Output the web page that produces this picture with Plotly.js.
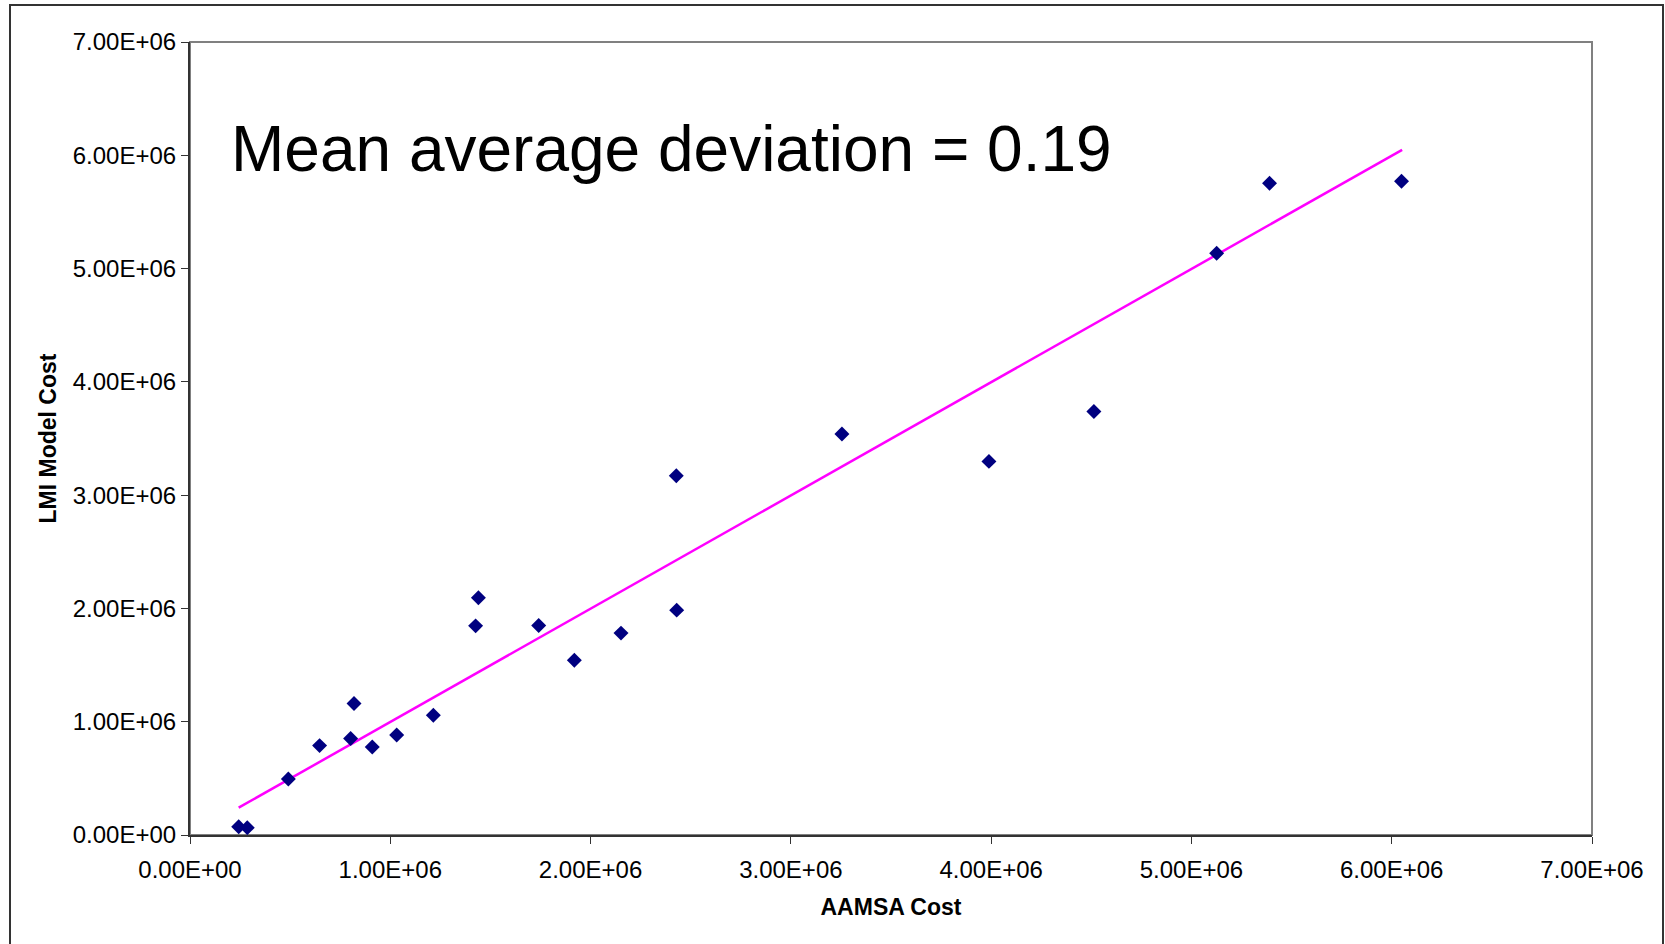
<!DOCTYPE html>
<html>
<head>
<meta charset="utf-8">
<script src="https://cdn.plot.ly/plotly-3.0.1.min.js"></script>
<style>
html,body{margin:0;padding:0;background:#fff;}
#chart{width:1665px;height:944px;}
</style>
</head>
<body>
<div id="chart"></div>
<script>
// AAMSA cost (x) vs LMI model cost (y)
const aamsaCost = [243000, 286000, 491000, 647000, 802000, 819000, 910000, 1032000, 1215000,
  1426000, 1440000, 1741000, 1919000, 2152000, 2428000, 2430000, 3255000, 3989000, 4513000,
  5126000, 5390000, 6049000];
const lmiModelCost = [73000, 65000, 495000, 789000, 851000, 1160000, 777000, 883000, 1057000,
  1846000, 2094000, 1849000, 1543000, 1782000, 3171000, 1985000, 3540000, 3298000, 3739000,
  5135000, 5754000, 5771000];
// Trend line end points
const trendX = [243000, 6052000];
const trendY = [241000, 6048000];
// Tick labels
const tickVals = [0, 1000000, 2000000, 3000000, 4000000, 5000000, 6000000, 7000000];
const tickText = ['0.00E+00', '1.00E+06', '2.00E+06', '3.00E+06', '4.00E+06', '5.00E+06', '6.00E+06', '7.00E+06'];
const annotationText = 'Mean average deviation = 0.19';
const xTitle = 'AAMSA Cost';
const yTitle = 'LMI Model Cost';

const FONT = '"Liberation Sans", Arial, sans-serif';

const traces = [
  {
    x: trendX, y: trendY, type: 'scatter', mode: 'lines',
    line: {color: '#FF00FF', width: 2.5},
    hoverinfo: 'skip', showlegend: false
  },
  {
    x: aamsaCost, y: lmiModelCost, type: 'scatter', mode: 'markers',
    marker: {symbol: 'diamond', size: 11.5, color: '#000080', line: {width: 0}},
    showlegend: false
  }
];

const L = 190, R = 73, T = 42, B = 109, W = 1665, H = 944;
const pw = W - L - R, ph = H - T - B;
function px2paperX(px){ return (px - L) / pw; }
function px2paperY(py){ return (H - B - py) / ph; }

const axisCommon = {
  range: [0, 7000000],
  tickmode: 'array',
  tickvals: tickVals,
  ticktext: tickText,
  ticks: 'outside',
  ticklen: 7,
  tickwidth: 1,
  tickcolor: '#333333',
  showgrid: false,
  zeroline: false,
  showline: true,
  linecolor: '#333333',
  linewidth: 2,
  tickfont: {family: FONT, size: 24, color: '#000000'},
  fixedrange: true,
  automargin: false
};

const layout = {
  width: W, height: H,
  margin: {l: L, r: R, t: T, b: B, pad: 0},
  paper_bgcolor: '#ffffff',
  plot_bgcolor: '#ffffff',
  showlegend: false,
  font: {family: FONT, color: '#000000'},
  xaxis: Object.assign({}, axisCommon, {
    ticklabelstandoff: 5,
    title: {text: xTitle, font: {family: FONT, size: 23, color: '#000000', weight: 'bold'}, standoff: 17}
  }),
  yaxis: Object.assign({}, axisCommon, {
    title: {text: yTitle, font: {family: FONT, size: 23, color: '#000000', weight: 'bold'}, standoff: 10}
  }),
  shapes: [
    {type: 'rect', xref: 'paper', yref: 'paper', x0: 0, x1: 1, y0: 0, y1: 1,
     line: {color: '#808080', width: 2}, fillcolor: 'rgba(0,0,0,0)', layer: 'below'},
    {type: 'rect', xref: 'paper', yref: 'paper',
     x0: px2paperX(10), x1: px2paperX(1663), y0: px2paperY(980), y1: px2paperY(5),
     line: {color: '#333333', width: 2}, fillcolor: 'rgba(0,0,0,0)', layer: 'above'}
  ],
  annotations: [
    {text: annotationText, xref: 'paper', yref: 'paper',
     x: px2paperX(229), y: px2paperY(149), xanchor: 'left', yanchor: 'middle',
     showarrow: false, font: {family: FONT, size: 64, color: '#000000'}}
  ]
};

Plotly.newPlot('chart', traces, layout, {displayModeBar: false, staticPlot: true});
</script>
</body>
</html>
